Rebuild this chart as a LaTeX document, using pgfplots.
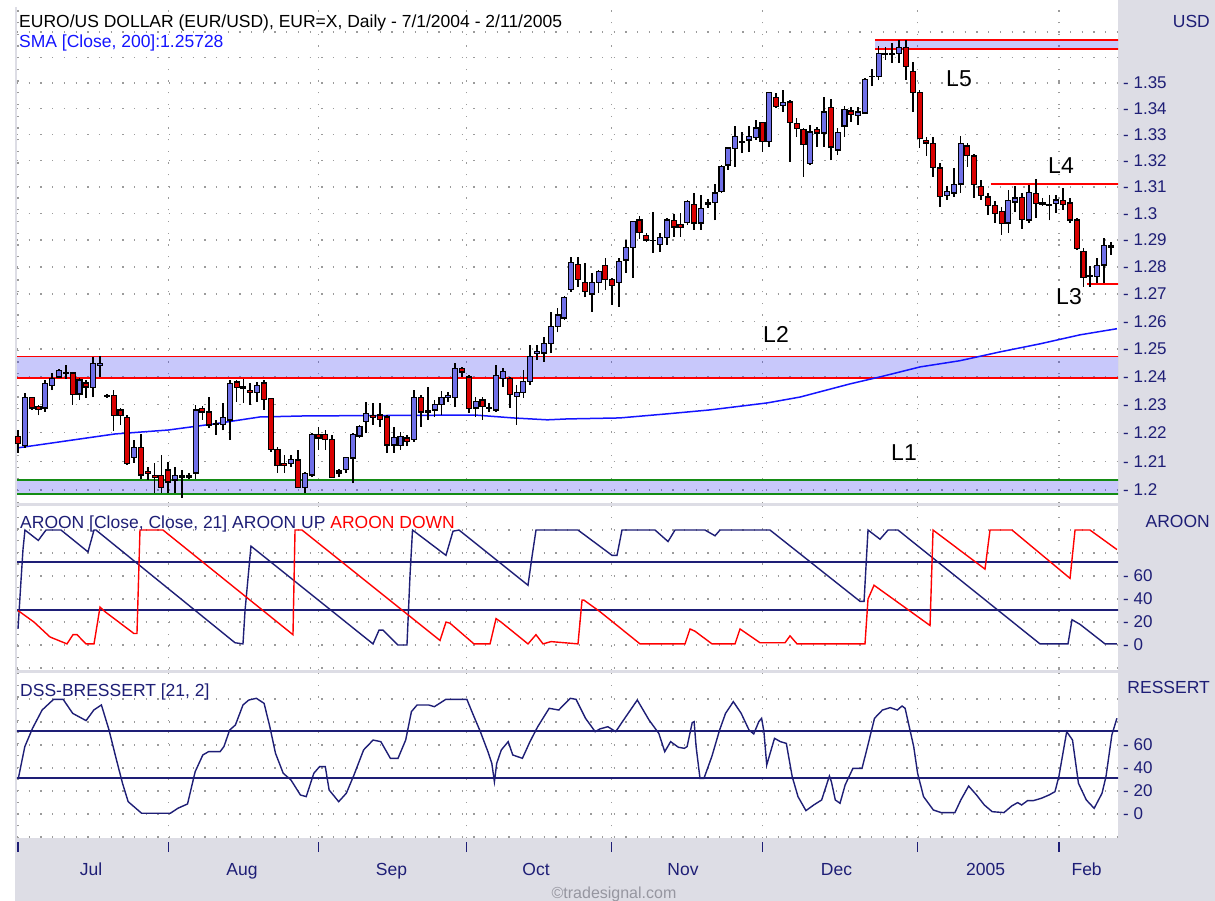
\documentclass[border=0pt]{standalone}
\usepackage{fontspec}
\setmainfont{Liberation Sans}
\usepackage{pgfplots}
\usepackage{pgfplotstable}
\pgfplotsset{compat=1.18}
\definecolor{navy}{RGB}{30,30,118}
\definecolor{bgc}{RGB}{221,221,229}
\definecolor{cblue}{RGB}{112,112,232}
\definecolor{cred}{RGB}{218,0,0}
\definecolor{smablue}{RGB}{20,20,255}
\definecolor{bandc}{RGB}{40,40,240}
\definecolor{dotgray}{RGB}{155,155,155}
\definecolor{lvlgreen}{RGB}{20,140,20}
\definecolor{lvlred}{RGB}{255,0,0}
\newcommand\lf{\fontsize{17.5}{20}\selectfont}
\begin{document}
\pgfplotstableread{
i o h l c
0 1.2186 1.2210 1.2129 1.2161
1 1.2154 1.2342 1.2147 1.2327
2 1.2324 1.2327 1.2281 1.2288
3 1.2292 1.2299 1.2263 1.2281
4 1.2288 1.2388 1.2274 1.2377
5 1.2367 1.2413 1.2352 1.2392
6 1.2399 1.2428 1.2395 1.2421
7 1.2413 1.2442 1.2392 1.2410
8 1.2413 1.2417 1.2299 1.2335
9 1.2338 1.2395 1.2317 1.2388
10 1.2377 1.2388 1.2324 1.2363
11 1.2360 1.2471 1.2327 1.2449
12 1.2442 1.2474 1.2399 1.2446
13 1.2333 1.2338 1.2324 1.2329
14 1.2331 1.2352 1.2207 1.2260
15 1.2281 1.2288 1.2228 1.2260
16 1.2253 1.2263 1.2087 1.2091
17 1.2112 1.2175 1.2094 1.2147
18 1.2147 1.2196 1.2038 1.2052
19 1.2063 1.2080 1.2035 1.2056
20 1.2052 1.2094 1.1990 1.2042
21 1.2052 1.2122 1.1990 1.2010
22 1.2070 1.2098 1.1990 1.2028
23 1.2035 1.2080 1.1990 1.2052
24 1.2049 1.2070 1.1972 1.2045
25 1.2045 1.2059 1.2038 1.2049
26 1.2059 1.2299 1.2038 1.2281
27 1.2288 1.2295 1.2246 1.2274
28 1.2274 1.2327 1.2217 1.2228
29 1.2232 1.2246 1.2193 1.2228
30 1.2228 1.2306 1.2210 1.2253
31 1.2246 1.2388 1.2175 1.2377
32 1.2381 1.2388 1.2310 1.2360
33 1.2363 1.2392 1.2306 1.2356
34 1.2352 1.2377 1.2299 1.2345
35 1.2342 1.2381 1.2310 1.2367
36 1.2377 1.2388 1.2281 1.2317
37 1.2320 1.2324 1.2133 1.2140
38 1.2140 1.2150 1.2059 1.2084
39 1.2091 1.2122 1.2059 1.2084
40 1.2091 1.2122 1.2080 1.2105
41 1.2105 1.2140 1.2007 1.2010
42 1.2010 1.2063 1.1990 1.2056
43 1.2052 1.2200 1.2045 1.2193
44 1.2193 1.2221 1.2140 1.2182
45 1.2193 1.2210 1.2140 1.2175
46 1.2175 1.2193 1.2042 1.2045
47 1.2066 1.2073 1.2045 1.2059
48 1.2070 1.2115 1.2059 1.2112
49 1.2112 1.2200 1.2024 1.2193
50 1.2189 1.2228 1.2182 1.2221
51 1.2239 1.2310 1.2200 1.2267
52 1.2260 1.2306 1.2228 1.2253
53 1.2263 1.2306 1.2221 1.2246
54 1.2256 1.2263 1.2129 1.2157
55 1.2157 1.2221 1.2129 1.2182
56 1.2154 1.2203 1.2140 1.2186
57 1.2182 1.2193 1.2154 1.2171
58 1.2175 1.2352 1.2168 1.2327
59 1.2327 1.2335 1.2221 1.2274
60 1.2278 1.2363 1.2246 1.2274
61 1.2281 1.2317 1.2256 1.2302
62 1.2302 1.2349 1.2263 1.2324
63 1.2324 1.2345 1.2310 1.2331
64 1.2327 1.2449 1.2292 1.2431
65 1.2428 1.2435 1.2399 1.2417
66 1.2399 1.2406 1.2271 1.2288
67 1.2288 1.2327 1.2256 1.2310
68 1.2317 1.2327 1.2246 1.2292
69 1.2290 1.2306 1.2274 1.2287
70 1.2281 1.2442 1.2274 1.2406
71 1.2392 1.2431 1.2363 1.2417
72 1.2392 1.2399 1.2288 1.2335
73 1.2331 1.2370 1.2228 1.2345
74 1.2342 1.2424 1.2324 1.2381
75 1.2381 1.2514 1.2370 1.2471
76 1.2482 1.2514 1.2460 1.2492
77 1.2485 1.2543 1.2453 1.2521
78 1.2521 1.2634 1.2485 1.2580
79 1.2580 1.2649 1.2561 1.2623
80 1.2612 1.2693 1.2605 1.2686
81 1.2715 1.2837 1.2708 1.2815
82 1.2807 1.2837 1.2726 1.2752
83 1.2741 1.2815 1.2689 1.2711
84 1.2700 1.2778 1.2634 1.2741
85 1.2741 1.2789 1.2704 1.2782
86 1.2804 1.2833 1.2715 1.2752
87 1.2752 1.2759 1.2660 1.2730
88 1.2741 1.2833 1.2653 1.2819
89 1.2826 1.2900 1.2778 1.2871
90 1.2871 1.2972 1.2759 1.2968
91 1.2975 1.2990 1.2904 1.2927
92 1.2915 1.2927 1.2893 1.2900
93 1.2900 1.3005 1.2852 1.2897
94 1.2885 1.2927 1.2856 1.2908
95 1.2908 1.2983 1.2882 1.2975
96 1.2972 1.2998 1.2912 1.2949
97 1.2957 1.3002 1.2912 1.2947
98 1.2964 1.3051 1.2957 1.3043
99 1.3035 1.3077 1.2938 1.2964
100 1.2964 1.3069 1.2938 1.3020
101 1.3039 1.3054 1.3020 1.3035
102 1.3043 1.3111 1.2975 1.3077
103 1.3081 1.3183 1.3077 1.3179
104 1.3183 1.3252 1.3164 1.3248
105 1.3248 1.3333 1.3176 1.3291
106 1.3273 1.3310 1.3229 1.3269
107 1.3279 1.3333 1.3233 1.3291
108 1.3287 1.3356 1.3279 1.3325
109 1.3345 1.3349 1.3233 1.3272
110 1.3272 1.3465 1.3252 1.3461
111 1.3442 1.3461 1.3403 1.3407
112 1.3411 1.3473 1.3387 1.3422
113 1.3426 1.3434 1.3195 1.3345
114 1.3341 1.3364 1.3291 1.3322
115 1.3318 1.3325 1.3138 1.3260
116 1.3191 1.3337 1.3183 1.3310
117 1.3318 1.3329 1.3252 1.3306
118 1.3306 1.3446 1.3252 1.3387
119 1.3403 1.3438 1.3202 1.3252
120 1.3241 1.3325 1.3222 1.3310
121 1.3333 1.3411 1.3291 1.3395
122 1.3391 1.3407 1.3349 1.3376
123 1.3372 1.3407 1.3337 1.3387
124 1.3383 1.3520 1.3380 1.3512
125 1.3527 1.3555 1.3488 1.3524
126 1.3527 1.3645 1.3512 1.3614
127 1.3614 1.3642 1.3590 1.3610
128 1.3610 1.3657 1.3578 1.3614
129 1.3614 1.3669 1.3578 1.3638
130 1.3638 1.3669 1.3512 1.3563
131 1.3543 1.3582 1.3387 1.3461
132 1.3461 1.3473 1.3248 1.3283
133 1.3279 1.3291 1.3218 1.3268
134 1.3264 1.3291 1.3138 1.3172
135 1.3172 1.3191 1.3024 1.3062
136 1.3066 1.3103 1.3051 1.3081
137 1.3077 1.3172 1.3062 1.3111
138 1.3111 1.3295 1.3077 1.3264
139 1.3256 1.3268 1.3176 1.3218
140 1.3218 1.3225 1.3058 1.3111
141 1.3103 1.3126 1.3051 1.3066
142 1.3062 1.3077 1.2994 1.3028
143 1.3028 1.3047 1.2964 1.2998
144 1.3009 1.3024 1.2919 1.2964
145 1.2964 1.3088 1.2927 1.3047
146 1.3043 1.3103 1.3005 1.3058
147 1.3058 1.3077 1.2942 1.2975
148 1.2975 1.3107 1.2964 1.3077
149 1.3077 1.3130 1.2983 1.3039
150 1.3039 1.3058 1.3028 1.3035
151 1.3035 1.3069 1.2975 1.3032
152 1.3039 1.3069 1.3002 1.3051
153 1.3047 1.3096 1.3013 1.3035
154 1.3039 1.3058 1.2964 1.2975
155 1.2975 1.2983 1.2863 1.2867
156 1.2856 1.2871 1.2726 1.2759
157 1.2767 1.2804 1.2726 1.2763
158 1.2763 1.2833 1.2741 1.2804
159 1.2807 1.2908 1.2741 1.2878
160 1.2878 1.2893 1.2845 1.2874
}\candles
\begin{tikzpicture}[x=1pt,y=1pt]
\useasboundingbox (0,0) rectangle (1215,-901);
\fill[bgc] (15,0) rectangle (1215,-901);
\fill[white] (0,0) rectangle (1118,-7);
\pgfplotsset{panel/.style={scale only axis, width=1101pt,
  xmin=-0.146, xmax=161.05,
  axis background/.style={fill=white},
  axis line style={draw=none}, tick style={draw=none}, major tick length=0pt,
  xtick={0,22,44,65.7,86.9,109,131.7,152.4}, xticklabels={},
  xmajorgrids, ymajorgrids,
  major grid style={draw=dotgray, line width=1.3pt, dash pattern=on 1.3pt off 10.4pt},
  yticklabel pos=right,
  yticklabel style={anchor=west, inner sep=0pt, xshift=5pt, font=\fontsize{17}{20}\selectfont, text=navy}}}
% ---------------- main price panel (logarithmic price scale)
\begin{axis}[panel, at={(17pt,-503pt)}, anchor=south west, height=496pt,
  ymode=log, ymin=1.19549, ymax=1.38,
  ytick={1.20,1.21,1.22,1.23,1.24,1.25,1.26,1.27,1.28,1.29,1.30,1.31,1.32,1.33,1.34,1.35,1.36,1.37},
  yticklabels={- 1.2,- 1.21,- 1.22,- 1.23,- 1.24,- 1.25,- 1.26,- 1.27,- 1.28,- 1.29,- 1.3,- 1.31,- 1.32,- 1.33,- 1.34,- 1.35,,}]
\addplot[draw=none, fill=bandc, fill opacity=0.256, forget plot] coordinates {(-1,1.2395) (162,1.2395) (162,1.2472) (-1,1.2472) (-1,1.2395)};
\addplot[draw=none, fill=bandc, fill opacity=0.256, forget plot] coordinates {(-1,1.1986) (162,1.1986) (162,1.2035) (-1,1.2035) (-1,1.1986)};
\addplot[draw=none, fill=bandc, fill opacity=0.256, forget plot] coordinates {(125.5,1.3633) (162,1.3633) (162,1.3669) (125.5,1.3669) (125.5,1.3633)};
\addplot[lvlred, line width=1.5pt] coordinates {(-1,1.2472) (162,1.2472)};
\addplot[lvlred, line width=1.5pt] coordinates {(-1,1.2395) (162,1.2395)};
\addplot[lvlgreen, line width=1.5pt] coordinates {(-1,1.2035) (162,1.2035)};
\addplot[lvlgreen, line width=1.5pt] coordinates {(-1,1.1986) (162,1.1986)};
\addplot[lvlred, line width=1.5pt] coordinates {(125.5,1.3669) (162,1.3669)};
\addplot[lvlred, line width=1.5pt] coordinates {(125.5,1.3633) (162,1.3633)};
\addplot[lvlred, line width=1.5pt] coordinates {(142.4,1.3111) (162,1.3111)};
\addplot[lvlred, line width=1.5pt] coordinates {(156.5,1.2737) (162,1.2737)};
\addplot[smablue, line width=1.5pt] coordinates {(0,1.2147) (14.2,1.2196) (22,1.2210) (28.8,1.2232) (35.4,1.2256) (42,1.2260) (66.9,1.2263) (72.5,1.2253) (77.5,1.2246) (80.4,1.2249) (88.1,1.2253) (95,1.2267) (101.3,1.2281) (109.7,1.2306) (114.5,1.2327) (121.8,1.2374) (126.2,1.2399) (132.1,1.2435) (137.9,1.2457) (143.8,1.2489) (149.6,1.2518) (155.5,1.2551) (160.9,1.2573)};
% candlesticks: each drawn at its low; offsets use the axis' own log scale (496pt over ln(1.38/1.19549))
\addplot[scatter, only marks, mark=*, mark size=0pt, point meta=0,
  visualization depends on={3455.6*ln(\thisrow{h}/\thisrow{l}) \as \hh},
  visualization depends on={3455.6*ln(\thisrow{o}/\thisrow{l}) \as \ob},
  visualization depends on={3455.6*ln(\thisrow{c}/\thisrow{l}) \as \cb},
  scatter/@pre marker code/.code={%
    \pgfmathsetmacro\blo{min(\ob,\cb)}%
    \pgfmathsetmacro\bhi{max(\ob,\cb)}%
    \ifdim\cb pt>\ob pt\def\bcol{cblue}\else\def\bcol{cred}\fi
    \draw[black, line width=1.7pt] (0pt,0pt) -- (0pt,\hh pt);
    \filldraw[fill=\bcol, draw=black, line width=1.1pt] (-2.5pt,\blo pt) rectangle (2.5pt,\bhi pt);
  },
  scatter/@post marker code/.code={}]
  table[x=i, y=l] {\candles};
\end{axis}
% ---------------- AROON panel
\begin{axis}[panel, at={(17pt,-670pt)}, anchor=south west, height=164pt,
  ymin=-21.7, ymax=120.9,
  ytick={-20,0,20,40,60,80,100}, yticklabels={,- 0,- 20,- 40,- 60,,}]
\addplot[navy, line width=1.8pt] coordinates {(-1,72) (162,72)};
\addplot[navy, line width=1.8pt] coordinates {(-1,30.5) (162,30.5)};
\addplot[navy, line width=1.4pt] coordinates {(0,14) (0.44,56) (0.73,83) (1.02,100) (2.97,91) (4.10,100) (6.30,100) (10.25,81) (11.13,100) (11.42,100) (31.77,2) (32.94,1) (33.24,30) (34.11,86) (51.98,1) (52.86,13) (53.44,13) (55.64,0) (56.95,0) (57.39,60) (57.76,100) (62.66,78) (63.69,99) (64.57,100) (74.67,52) (75.26,77) (75.84,100) (81.99,100) (86.97,78) (87.70,78) (88.43,100) (93.27,100) (95.17,90) (96.19,100) (100.59,100) (102.05,95) (102.78,100) (110.10,100) (123.28,38) (123.87,38) (124.45,100) (126.21,92) (127.38,100) (128.84,100) (149.63,1) (153.73,1) (154.32,22) (155.49,18) (159.15,1) (160.9,1)};
\addplot[lvlred, line width=1.4pt] coordinates {(0,30) (2.34,20) (4.69,7) (7.17,1) (8.05,9) (8.64,9) (9.96,1) (11.13,1) (12.01,33) (12.74,29) (16.98,10) (17.42,10) (17.86,100) (21.23,100) (40.26,9) (40.56,100) (41.58,100) (61.79,4) (62.66,20) (63.25,19) (66.76,1) (69.11,1) (69.99,23) (70.72,20) (74.67,1) (75.84,9) (76.87,1) (78.04,3) (81.99,1) (82.58,39) (82.87,39) (85.21,29) (91.07,1) (97.66,1) (98.39,14) (99.12,12) (101.61,1) (104.98,1) (105.71,14) (106.44,11) (108.64,2) (112.30,2) (113.03,8) (114.06,1) (124.01,1) (124.45,40) (125.33,52) (133.53,17) (133.97,100) (141.58,66) (142.31,100) (145.53,100) (154.03,58) (154.76,100) (156.95,100) (160.9,83)};
\end{axis}
% ---------------- DSS panel
\begin{axis}[panel, at={(17pt,-838pt)}, anchor=south west, height=165pt,
  ymin=-20.9, ymax=122.6,
  ytick={-20,0,20,40,60,80,100}, yticklabels={,- 0,- 20,- 40,- 60,,},
  xticklabels={\rule{1.5pt}{10pt},\rule{1.5pt}{10pt},\rule{1.5pt}{10pt},\rule{1.5pt}{10pt},\rule{1.5pt}{10pt},\rule{1.5pt}{10pt},\rule{1.5pt}{10pt},\rule{1.5pt}{10pt}},
  xticklabel style={anchor=north, inner sep=0pt, yshift=-4pt, text=navy, font=\lf},
  extra x ticks={10.69,32.80,54.69,75.84,97.36,119.84,141.67,156.46},
  extra x tick labels={Jul,Aug,Sep,Oct,Nov,Dec,2005,Feb},
  extra x tick style={xmajorgrids=false, xticklabel style={anchor=base, yshift=-33pt}}]
\addplot[navy, line width=1.8pt] coordinates {(-1,72) (162,72)};
\addplot[navy, line width=1.8pt] coordinates {(-1,31) (162,31)};
\addplot[navy, line width=1.4pt] coordinates {(0.05,31) (1.0,58.6) (2.13,74.5) (3.53,90.4) (5.21,99.7) (6.61,99.7) (8.01,87.5) (9.97,81.2) (11.10,90.4) (12.21,94.8) (13.33,73) (14.17,52.8) (15.30,26.7) (16.13,10.7) (18.10,0.6) (22.30,0.6) (23.42,5) (24.82,8.7) (25.94,36.8) (27.06,51.3) (27.90,54.2) (29.59,54.2) (30.15,58.6) (30.99,73) (31.83,77.4) (32.94,94.8) (33.79,99.1) (34.90,100.6) (36.03,96.2) (36.87,75.9) (37.70,52.8) (38.83,35.4) (39.96,29.6) (41.35,16.5) (42.20,15.1) (43.31,35.4) (44.16,41.2) (44.99,41.2) (45.55,20.9) (46.95,10.7) (48.07,18) (49.19,33.9) (50.60,55.7) (51.99,64.3) (53.12,62.9) (54.52,48.4) (55.64,48.4) (56.76,64.3) (57.60,89) (58.43,94.8) (60.12,94.8) (60.96,93.3) (62.64,99.7) (65.72,99.7) (66.56,87.5) (67.69,71.6) (68.80,54.2) (69.37,44.1) (69.75,28.1) (70.09,44.1) (70.76,55.7) (71.77,62.9) (72.44,51.3) (73.85,48.4) (74.96,62.9) (76.09,75.9) (77.77,91.9) (79.17,90.4) (80.85,100.6) (81.70,99.7) (83.09,83.2) (84.50,71.6) (85.21,74) (86.36,75.9) (87.51,71.6) (88.66,81.7) (90.67,99.1) (92.39,81.7) (93.82,70.1) (94.69,54.2) (95.55,62.9) (96.69,58) (97.56,57.1) (97.96,58.6) (98.71,79.4) (98.99,80.3) (99.28,58.6) (99.85,31) (100.43,31) (101.58,49.9) (102.72,73) (103.59,87.5) (104.73,97.7) (105.88,87.5) (107.03,73) (107.72,69.6) (108.46,80.3) (108.87,83.2) (109.21,71.6) (109.62,42.6) (110.19,54.2) (110.76,65.8) (111.62,62.9) (112.49,61.4) (113.35,32.5) (114.20,15.1) (115.36,2.9) (116.50,7.8) (117.66,12.2) (118.80,33) (119.09,28) (119.66,12.2) (120.35,9.3) (121.10,25.2) (122.24,39.7) (123.57,39.7) (124.26,55.7) (125.40,83.2) (126.56,90.4) (127.70,92.5) (128.74,90.4) (129.43,93.9) (129.88,91.9) (131.14,58.6) (131.71,35.4) (132.58,15.1) (134.01,3.5) (135.17,1.2) (137.17,1.2) (138.04,12.2) (139.18,24.3) (140.34,16.5) (141.48,7.8) (142.63,2) (144.35,1.2) (145.50,7) (146.36,9.9) (146.94,7.8) (147.80,11.6) (148.65,11.6) (149.81,13.6) (150.95,16.5) (151.82,19.4) (152.39,32.5) (153.54,71.6) (154.39,64.3) (155.26,26.7) (156.41,12.2) (157.56,4.9) (158.71,18) (159.29,32.5) (160.15,68.7) (160.89,83.2)};
\end{axis}
% ---------------- texts
\node[anchor=base west, font=\lf, inner sep=0pt] at (19,-28) {EURO/US DOLLAR (EUR/USD), EUR=X, Daily - 7/1/2004 - 2/11/2005};
\node[anchor=base west, font=\lf, inner sep=0pt, text=smablue] at (19,-48) {SMA [Close, 200]:1.25728};
\node[anchor=base west, font=\lf, inner sep=0pt, text=navy] at (20,-528) {AROON [Close, Close, 21] AROON UP \textcolor{lvlred}{AROON DOWN}};
\node[anchor=base west, font=\lf, inner sep=0pt, text=navy] at (20,-696) {DSS-BRESSERT [21, 2]};
\node[anchor=base east, font=\lf, inner sep=0pt, text=navy] at (1210,-28) {USD};
\node[anchor=base east, font=\lf, inner sep=0pt, text=navy] at (1210,-527) {AROON};
\node[anchor=base east, font=\lf, inner sep=0pt, text=navy] at (1210,-693) {RESSERT};
\begin{scope}[every node/.style={font=\fontsize{23}{26}\selectfont, inner sep=0pt}]
\node at (959,-79) {L5};
\node at (1061,-166) {L4};
\node at (1069,-297) {L3};
\node at (776,-334) {L2};
\node at (904,-453) {L1};
\end{scope}
\node[anchor=north, font=\fontsize{16}{18}\selectfont, inner sep=0pt, text={rgb,255:red,150;green,150;blue,160}] at (614,-887) {©tradesignal.com};
\end{tikzpicture}
\end{document}
